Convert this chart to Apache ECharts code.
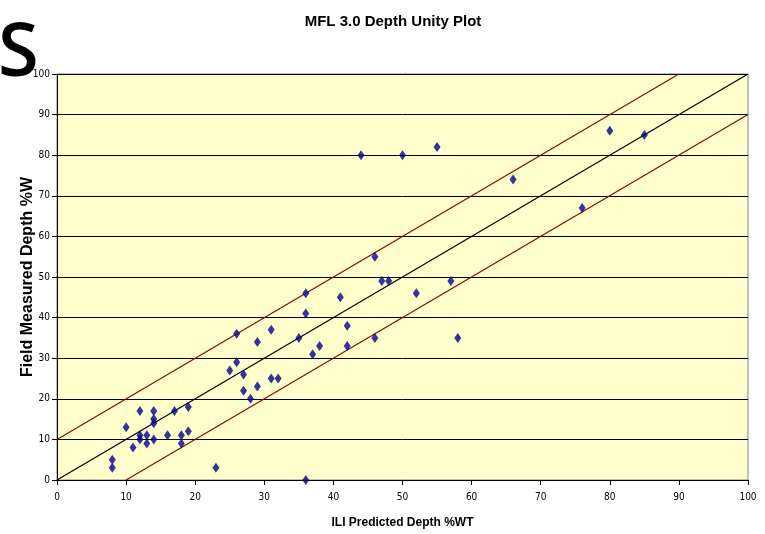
<!DOCTYPE html>
<html>
<head>
<meta charset="utf-8">
<script src="https://cdn.jsdelivr.net/npm/echarts@6/dist/echarts.min.js"></script>
<style>
  html, body { margin: 0; padding: 0; background: #fff; }
  #chart { width: 765px; height: 534px; }
</style>
</head>
<body>
<div id="chart"></div>
<script>
// ILI predicted depth vs. field measured depth (% wall thickness)
const iliDepth = [8, 8, 10, 11, 12, 12, 12, 13, 13, 14, 14, 14, 14, 16, 17, 18, 18, 19, 19, 23,
  25, 26, 26, 27, 27, 28, 29, 29, 31, 31, 32, 35, 36, 36, 36, 37, 38, 41, 42, 42,
  44, 46, 46, 47, 48, 50, 52, 55, 57, 58, 66, 76, 80, 85];
const fieldDepth = [5, 3, 13, 8, 17, 11, 10, 11, 9, 17, 15, 14, 10, 11, 17, 11, 9, 18, 12, 3,
  27, 36, 29, 26, 22, 20, 34, 23, 37, 25, 25, 35, 46, 41, 0, 31, 33, 45, 38, 33,
  80, 55, 35, 49, 49, 80, 46, 82, 49, 35, 74, 67, 86, 85];

// Unity line and +/-10% tolerance band end points
const unityLine = [[0, 0], [100, 100]];
const upperBand = [[0, 10], [90, 100]];
const lowerBand = [[10, 0], [100, 90]];

const axisTicks = [0, 10, 20, 30, 40, 50, 60, 70, 80, 90, 100];

const narrow = "'Liberation Sans Narrow', 'Arial Narrow', 'DejaVu Sans Condensed', 'Liberation Sans', sans-serif";

const chart = echarts.init(document.getElementById('chart'), null, { renderer: 'canvas' });

const points = iliDepth.map((x, i) => [x, fieldDepth[i]]);

chart.setOption({
  animation: false,
  title: {
    text: 'MFL 3.0 Depth Unity Plot',
    left: 388,
    top: 9,
    textAlign: 'center',
    textStyle: { fontFamily: "'Liberation Sans', Arial, sans-serif", fontWeight: 'bold', fontSize: 15, color: '#000' }
  },
  graphic: [{
    type: 'text',
    left: -2,
    top: 18,
    style: { text: 'S', font: '600 74px "Open Sans", "Noto Sans", sans-serif', fill: '#000' }
  }],
  grid: {
    left: 57, right: 17, top: 74, bottom: 52,
    show: true,
    backgroundColor: '#FFFFCC',
    borderColor: '#808080',
    borderWidth: 1
  },
  xAxis: {
    type: 'value',
    min: axisTicks[0], max: axisTicks[axisTicks.length - 1], interval: 10,
    name: 'ILI Predicted Depth %WT',
    nameLocation: 'middle',
    nameGap: 37,
    nameMoveOverlap: false,
    nameTextStyle: { fontFamily: "'Liberation Sans', Arial, sans-serif", fontWeight: 'bold', fontSize: 12, color: '#000' },
    axisLine: { show: true, onZero: false, lineStyle: { color: '#000', width: 1 } },
    axisTick: { show: true, inside: false, length: 5, lineStyle: { color: '#000' } },
    axisLabel: { fontFamily: narrow, fontSize: 10, color: '#000', margin: 12 },
    splitLine: { show: false }
  },
  yAxis: {
    type: 'value',
    min: axisTicks[0], max: axisTicks[axisTicks.length - 1], interval: 10,
    name: 'Field Measured Depth %W',
    nameLocation: 'middle',
    nameGap: 21,
    nameMoveOverlap: false,
    nameTextStyle: { fontFamily: "'Liberation Sans', Arial, sans-serif", fontWeight: 'bold', fontSize: 16, color: '#000' },
    axisLine: { show: true, onZero: false, lineStyle: { color: '#000', width: 1 } },
    axisTick: { show: true, inside: false, length: 5, lineStyle: { color: '#000' } },
    axisLabel: { fontFamily: narrow, fontSize: 10, color: '#000', margin: 7 },
    splitLine: { show: true, lineStyle: { color: '#000', width: 1 } }
  },
  series: [
    {
      type: 'line', data: upperBand, symbol: 'none', silent: true,
      lineStyle: { color: '#990000', width: 1.2 }, z: 2
    },
    {
      type: 'line', data: lowerBand, symbol: 'none', silent: true,
      lineStyle: { color: '#990000', width: 1.2 }, z: 2
    },
    {
      type: 'line', data: unityLine, symbol: 'none', silent: true,
      lineStyle: { color: '#000', width: 1.2 }, z: 2
    },
    {
      type: 'scatter', data: points,
      symbol: 'diamond', symbolSize: [7, 10],
      itemStyle: { color: '#00008B' }, z: 3
    }
  ]
});
</script>
</body>
</html>
